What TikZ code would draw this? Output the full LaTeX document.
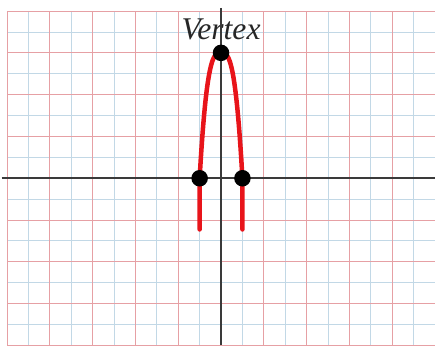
\documentclass[tikz,border=0pt]{standalone}
\usepackage{fontspec}
\setmainfont{Liberation Serif}
\usetikzlibrary{positioning}
\definecolor{GridRed}  {HTML}{E6A0A4}
\definecolor{GridBlue} {HTML}{C2D8E6}
\definecolor{AxisGray} {HTML}{3A3A3A}
\definecolor{CurveRed} {HTML}{E8141A}
\tikzset{
  majorline/.style={draw=GridRed,line width=0.6pt},
  minorline/.style={draw=GridBlue,line width=0.6pt},
  axisline/.style={draw=AxisGray,line width=1.2pt},
  curveline/.style={draw=CurveRed,line width=3pt,line cap=round,line join=round},
  dot/.style={circle,fill=black,inner sep=0pt,minimum size=11pt},
  vlabel/.style={font=\fontsize{21}{23}\selectfont\itshape,text=black!85},
}
\begin{document}
\begin{tikzpicture}[x=0.5cm,y=0.4883cm]
  \useasboundingbox (-10.33,-8) rectangle (10,8.53);

  % graph paper
  \foreach \i in {-9,-7,...,9}
    \draw[minorline] (\i,-8) -- (\i,8);
  \foreach \j in {-7,-5,...,7}
    \draw[minorline] (-10,\j) -- (10,\j);
  \foreach \i in {-10,-8,...,10}
    \draw[majorline] (\i,-8) -- (\i,8);
  \foreach \j in {-8,-6,...,8}
    \draw[majorline] (-10,\j) -- (10,\j);

  \node[vlabel] (vtext) at (0,7.12) {Vertex};

  % axes
  \coordinate (xl) at (-10.25,0);
  \coordinate (xr) at (10,0);
  \coordinate (yt) at (0,8.15);
  \coordinate (yb) at (0,-8);
  \draw[axisline] (xl) -- (xr);
  \draw[axisline] (yt) -- (yb);

  % curve
  \draw[curveline] (-1,-2.45) -- (-1,0)
    -- plot[domain=-1:1,samples=81,smooth] (\x,{6-6*abs(\x)^3})
    -- (1,-2.45);

  \node[dot] (vertex) at (0,6) {};
  \node[dot] (rootL) at (-1,0) {};
  \node[dot] (rootR) at (1,0) {};

\end{tikzpicture}
\end{document}
